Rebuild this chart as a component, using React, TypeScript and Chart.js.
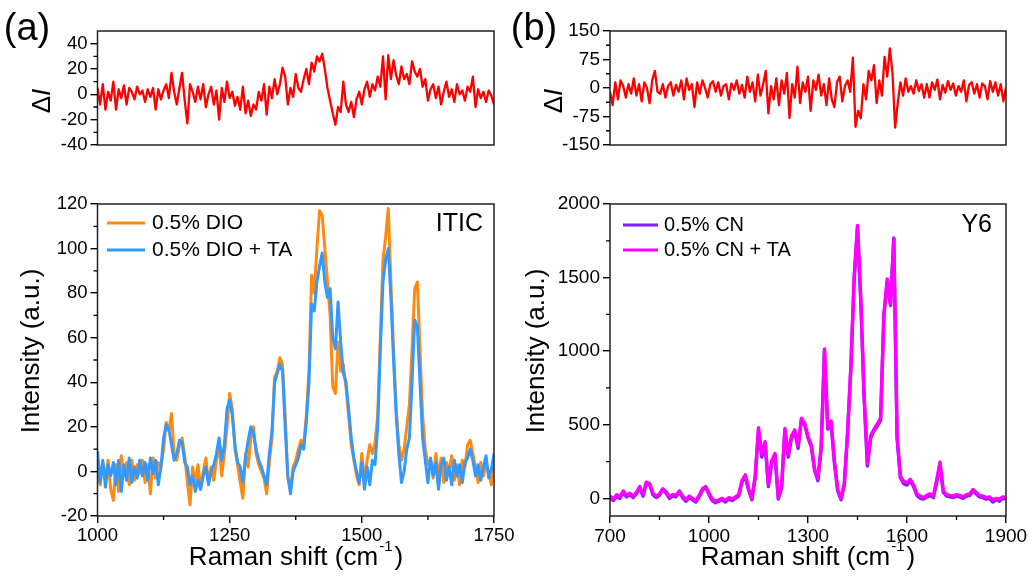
import React, { useEffect, useRef } from 'react';
import { Chart, registerables } from 'chart.js';
Chart.register(...registerables);

const FONT = "'Liberation Sans', Arial, Helvetica, sans-serif";
const W = 1034;
const H = 581;

// ---------- x grids (Raman shift, cm^-1) ----------
const ITIC_SHIFT = Array.from({ length: 151 }, (_, i) => 1000 + 5 * i);
const Y6_SHIFT = Array.from({ length: 121 }, (_, i) => 700 + 10 * i);
const Y6_DIFF_SHIFT = Array.from({ length: 151 }, (_, i) => 700 + 8 * i);

// ---------- tick labels ----------
const ITIC_X_TICKS = [1000, 1250, 1500, 1750];
const ITIC_X_MINOR = [1125, 1375, 1625];
const ITIC_DELTA_Y_TICKS = [-40, -20, 0, 20, 40];
const ITIC_DELTA_Y_MINOR = [-30, -10, 10, 30];
const ITIC_Y_TICKS = [-20, 0, 20, 40, 60, 80, 100, 120];
const ITIC_Y_MINOR = [-10, 10, 30, 50, 70, 90, 110];
const Y6_X_TICKS = [700, 1000, 1300, 1600, 1900];
const Y6_X_MINOR = [850, 1150, 1450, 1750];
const Y6_DELTA_Y_TICKS = [-150, -75, 0, 75, 150];
const Y6_DELTA_Y_MINOR = [-112.5, -37.5, 37.5, 112.5];
const Y6_Y_TICKS = [0, 500, 1000, 1500, 2000];
const Y6_Y_MINOR = [250, 750, 1250, 1750];

// ---------- (a) ITIC ----------
const ITIC_DIO = [
  2, -6, 4, -3, 5, -8, -13, 3, -9, 7,
  -2, 4, -6, 5, -4, 3, -1, 5, -5, 3,
  -10, 6, -3, 4, 2, 10, 22, 18, 26, 8,
  5, 12, 15, 7, -5, -15, 2, -6, 3, -8,
  0, 6, -5, 2, -4, 5, 12, -2, 8, 20,
  35, 28, 10, 3, -5, -12, 8, 2, 15, 20,
  8, 3, 0, -3, -10, 4, 15, 42, 45, 51,
  48, 25, -3, -8, 2, 5, 10, 14, 12, 25,
  45, 88, 80, 100, 117, 115, 100, 85, 70, 38,
  35, 58, 45, 48, 38, 25, 12, 5, -2, -6,
  8, -4, 5, 12, 8, 13, 25, 60, 95, 105,
  118, 85, 55, 28, 12, 5, 10, 20, 30, 55,
  82, 85, 55, 25, 10, 3, 5, -3, 8, -2,
  6, -5, 4, 0, 7, -4, 3, -6, 5, 2,
  12, 14, 8, 2, -5, 4, -2, 3, 0, -6,
  2,
];
const ITIC_DIO_TA = [
  9, -5, 5, -7, 3, -2, 4, -6, 5, -9,
  3, -4, 6, -5, 2, -3, 5, -2, 4, -4,
  6, -1, 5, -6, 2, 15, 21, 19, 12, 5,
  8, 14, 13, 4, 2, -6, -2, -9, -4, -8,
  -2, 2, -6, 0, 3, 8, 15, 5, 12, 28,
  32, 25, 12, 4, 2, -5, 6, 14, 20, 17,
  10, 5, 2, -2, -6, 8, 18, 40, 44, 48,
  45, 20, -2, -10, 0, 3, 6, 12, 10, 22,
  40, 75, 72, 85, 92, 98, 85, 78, 82, 60,
  55, 76, 58, 44, 40, 28, 15, 6, 0, -5,
  4, -8, 2, -6, 5, 3, 20, 55, 85, 95,
  100, 78, 50, 25, 8, -5, 0, 10, 15, 40,
  68, 65, 40, 15, 5, -5, 6, -2, 4, -8,
  3, 6, -4, 2, -6, 5, -2, 3, -5, 4,
  6, 10, 5, -2, 3, -4, 2, 7, -3, 1,
  8,
];
const ITIC_DELTA = [
  5, -8, 8, -12, 2, -5, 10, -12, 4, -3,
  7, -8, 5, 2, -4, 6, 0, 3, -6, 4,
  -2, 5, -12, 4, -4, 3, 8, -3, 17, 2,
  -8, 5, 17, -5, -23, 8, 2, -6, 6, -4,
  8, -10, 0, 6, -8, 3, -20, 5, -6, 10,
  -3, 2, -9, -2, -12, 6, -15, -5, -17, -8,
  -12, 2, -5, 8, -16, 6, -3, 12, 0, 8,
  21, 14, -8, 5, -2, 16, 5, 2, 12, 20,
  8, 25, 18, 30, 26, 32, 20, 5, -5, -15,
  -24, -10, -14, 10, -8, -14, -6, -18, -4, 2,
  -8, 4, 10, -2, 8, 3, 14, 6, 30, -4,
  31, 12, 27, 15, 8, 22, 12, 16, 8, 26,
  18, 14, 20, 6, 12, -5, 4, 8, -3, 6,
  -8, 2, 10, -2, 4, -6, 8, 0, 3, -5,
  6, 2, 14, -10, 4, -3, 2, -6, 3, -1,
  -8,
];

// ---------- (b) Y6 ----------
const Y6_CN = [
  5, -15, 10, 0, 40, 10, 25, 5, 30, 70,
  15, 100, 95, 25, 5, 20, 60, 35, 0, 15,
  10, 45, 5, -20, 5, -10, -25, 10, 55, 75,
  25, -15, -30, -20, -10, -25, -5, -15, 0, 15,
  110, 150, 55, -10, 140, 460, 280, 370, 80, 240,
  290, -5, 70, 460, 280, 410, 450, 340, 530, 500,
  410, 350, 190, 120, 340, 1000, 470, 510, 240, 50,
  -10, 90, 440, 890, 1490, 1840, 1340, 690, 220, 410,
  460, 490, 530, 1240, 1470, 1310, 1770, 410, 140, 100,
  90, 120, 80, 20, 0, -5, 10, 20, 5, 110,
  230, 40, 15, 10, 5, 15, 10, 0, 15, 20,
  50, 30, 10, 5, -5, 0, -25, -10, -20, 0,
  -5,
];
const Y6_CN_TA = [
  15, -5, 25, 10, 50, 20, 35, 15, 40, 80,
  25, 110, 100, 35, 15, 30, 65, 45, 10, 25,
  20, 50, 15, -10, 15, 0, -15, 20, 65, 80,
  35, -5, -20, -10, 0, -15, 5, -5, 10, 25,
  120, 160, 65, 0, 150, 480, 300, 385, 95, 255,
  305, 5, 85, 475, 300, 425, 465, 355, 545, 510,
  420, 360, 200, 135, 355, 1015, 480, 525, 255, 60,
  0, 100, 455, 900, 1505, 1855, 1350, 700, 235, 425,
  470, 505, 545, 1250, 1490, 1320, 1760, 420, 150, 115,
  105, 130, 90, 30, 15, 5, 20, 30, 15, 125,
  245, 50, 25, 20, 15, 25, 20, 10, 25, 30,
  60, 40, 20, 15, 5, 10, -10, 0, -5, 10,
  5,
];
const Y6_DELTA = [
  -10, -45, 15, -30, 20, 5, -25, 10, -15, 25,
  -20, 10, -35, 15, 0, -40, 20, 45, -10, -15,
  10, -25, 5, 15, -20, 8, -10, 20, -30, 25,
  -5, 10, -50, 15, -15, 20, 0, -25, 10, 18,
  -10, 15, -20, 5, 10, -30, 12, -5, 20, -15,
  8, -25, 30, -10, 15, -35, 35, -20, 10, 45,
  -67, 5, -30, 25, -45, 20, -15, 40, -79, 10,
  -25, 56, -40, 15, -10, 30, -60, 20, -5, 35,
  -20, 10, -45, 25, -30, -50, 15, 30, -35, 5,
  20, -10, 80, -102, -60, -80, 10, -30, 45, 20,
  60, -40, 20, -20, 82, 30, 104, 40, -104, -40,
  15, -20, 25, -10, 5, -15, 20, -8, 10, -25,
  10, -25, 15, -5, 22, -30, 8, -12, 18, -5,
  12, -20, 5, -10, 20, -35, 8, 15, -15, 10,
  -25, 12, 5, -30, 18, -10, 15, -20, 10, -35,
  0,
];

// ---------- labels ----------
const ITIC_LABELS = ['0.5% DIO', '0.5% DIO + TA'];
const Y6_LABELS = ['0.5% CN', '0.5% CN + TA'];
const COLORS = { dio: '#FF8A12', dioTa: '#3399FF', cn: '#7F1FFF', cnTa: '#FF00FF', delta: '#FF0000' };

type Series = { label: string; x: number[]; y: number[]; color: string; width: number; order: number };
type Panel = {
  padLeft: number; left: number; right: number; top: number; bottom: number;
  showX: boolean; xMin: number; xMax: number; xTicks: number[]; xMinor: number[];
  yMin: number; yMax: number; yTicks: number[]; yMinor: number[];
  tickSize: number;
  series: Series[];
  draw: (ctx: CanvasRenderingContext2D) => void;
};

function txt(ctx: CanvasRenderingContext2D, s: string, x: number, y: number, size: number, align: CanvasTextAlign = 'left') {
  ctx.font = `${size}px ${FONT}`;
  ctx.textAlign = align;
  ctx.textBaseline = 'middle';
  ctx.fillStyle = '#000';
  ctx.fillText(s, x, y);
}

function rotatedParts(ctx: CanvasRenderingContext2D, parts: [string, string][], cx: number, cy: number, size: number) {
  ctx.save();
  ctx.translate(cx, cy);
  ctx.rotate(-Math.PI / 2);
  const widths = parts.map(([s, st]) => {
    ctx.font = `${st} ${size}px ${FONT}`.trim();
    return ctx.measureText(s).width;
  });
  let x = -widths.reduce((a, b) => a + b, 0) / 2;
  ctx.textBaseline = 'middle';
  ctx.textAlign = 'left';
  ctx.fillStyle = '#000';
  parts.forEach(([s, st], i) => {
    ctx.font = `${st} ${size}px ${FONT}`.trim();
    ctx.fillText(s, x, 0);
    x += widths[i];
  });
  ctx.restore();
}

function xTitle(ctx: CanvasRenderingContext2D, cx: number, cy: number) {
  const a = 'Raman shift (cm';
  const b = '-1';
  const c = ')';
  ctx.font = `26px ${FONT}`;
  const wa = ctx.measureText(a).width;
  const wc = ctx.measureText(c).width;
  ctx.font = `15px ${FONT}`;
  const wb = ctx.measureText(b).width + 3;
  const x0 = cx - (wa + wb + wc) / 2;
  txt(ctx, a, x0, cy, 26);
  txt(ctx, b, x0 + wa + 1, cy - 11, 15);
  txt(ctx, c, x0 + wa + wb, cy, 26);
}

function legend(ctx: CanvasRenderingContext2D, labels: string[], colors: string[], x0: number, x1: number, tx: number, ys: number[], size: number) {
  labels.forEach((l, i) => {
    ctx.strokeStyle = colors[i];
    ctx.lineWidth = 3;
    ctx.beginPath();
    ctx.moveTo(x0, ys[i]);
    ctx.lineTo(x1, ys[i]);
    ctx.stroke();
    txt(ctx, l, tx, ys[i], size);
  });
}

function decor(p: Panel) {
  return {
    id: 'decor',
    afterDraw(chart: any) {
      const { ctx, chartArea: a, scales } = chart;
      ctx.save();
      ctx.strokeStyle = '#222';
      ctx.lineWidth = 1.5;
      ctx.strokeRect(a.left, a.top, a.right - a.left, a.bottom - a.top);
      ctx.strokeStyle = '#000';
      ctx.lineWidth = 1.3;
      ctx.beginPath();
      p.yMinor.forEach((v) => {
        const y = scales.y.getPixelForValue(v);
        ctx.moveTo(a.left, y);
        ctx.lineTo(a.left - 4, y);
      });
      if (p.showX) {
        p.xMinor.forEach((v) => {
          const x = scales.x.getPixelForValue(v);
          ctx.moveTo(x, a.bottom);
          ctx.lineTo(x, a.bottom + 4);
        });
      }
      ctx.stroke();
      p.draw(ctx);
      ctx.restore();
    },
  };
}

function buildConfig(p: Panel): any {
  const tickFont = { family: FONT, size: p.tickSize };
  const gridOpts = { display: true, drawOnChartArea: false, drawTicks: true, tickLength: 7, color: '#000', lineWidth: 1.4 };
  const fmt = (v: any) => String(v);
  return {
    type: 'line',
    data: {
      datasets: p.series.map((s) => ({
        label: s.label,
        data: s.x.map((x, i) => ({ x, y: s.y[i] })),
        borderColor: s.color,
        backgroundColor: s.color,
        borderWidth: s.width,
        pointRadius: 0,
        tension: 0,
        fill: false,
        order: s.order,
        borderJoinStyle: 'round',
      })),
    },
    options: {
      responsive: false,
      animation: false,
      devicePixelRatio: 1,
      events: [],
      layout: {
        padding: {
          left: p.padLeft,
          right: W - p.right,
          top: p.top,
          bottom: p.showX ? H - p.bottom - 35 : H - p.bottom,
        },
      },
      plugins: { legend: { display: false }, tooltip: { enabled: false } },
      scales: {
        x: {
          type: 'linear',
          display: p.showX,
          min: p.xMin,
          max: p.xMax,
          afterFit: (s: any) => { s.height = 35; },
          afterBuildTicks: (s: any) => { s.ticks = p.xTicks.map((v) => ({ value: v })); },
          ticks: { autoSkip: false, maxRotation: 0, minRotation: 0, color: '#000', font: tickFont, padding: 2, callback: fmt },
          grid: gridOpts,
          border: { display: false },
        },
        y: {
          type: 'linear',
          min: p.yMin,
          max: p.yMax,
          afterFit: (s: any) => { s.width = p.left - p.padLeft; },
          afterBuildTicks: (s: any) => { s.ticks = p.yTicks.map((v) => ({ value: v })); },
          ticks: { autoSkip: false, color: '#000', font: tickFont, padding: 3, callback: fmt },
          grid: gridOpts,
          border: { display: false },
        },
      },
    },
    plugins: [decor(p)],
  };
}

const PANELS: Panel[] = [
  {
    padLeft: 0, left: 97.5, right: 494, top: 31, bottom: 180,
    showX: false, xMin: 1000, xMax: 1750, xTicks: ITIC_X_TICKS, xMinor: [],
    yMin: -40, yMax: 50, yTicks: ITIC_DELTA_Y_TICKS, yMinor: ITIC_DELTA_Y_MINOR,
    tickSize: 18.5,
    series: [{ label: 'ΔI', x: ITIC_SHIFT, y: ITIC_DELTA, color: COLORS.delta, width: 2.3, order: 0 }],
    draw: (ctx) => {
      txt(ctx, '(a)', 27, 30, 38, 'center');
      rotatedParts(ctx, [['Δ', ''], ['I', 'italic']], 43, 101, 26);
    },
  },
  {
    padLeft: 0, left: 97.5, right: 494, top: 204, bottom: 516,
    showX: true, xMin: 1000, xMax: 1750, xTicks: ITIC_X_TICKS, xMinor: ITIC_X_MINOR,
    yMin: -20, yMax: 120, yTicks: ITIC_Y_TICKS, yMinor: ITIC_Y_MINOR,
    tickSize: 18.5,
    series: [
      { label: ITIC_LABELS[0], x: ITIC_SHIFT, y: ITIC_DIO, color: COLORS.dio, width: 3, order: 1 },
      { label: ITIC_LABELS[1], x: ITIC_SHIFT, y: ITIC_DIO_TA, color: COLORS.dioTa, width: 3, order: 0 },
    ],
    draw: (ctx) => {
      legend(ctx, ITIC_LABELS, [COLORS.dio, COLORS.dioTa], 107, 145, 152, [223, 250], 21);
      txt(ctx, 'ITIC', 483, 224, 25, 'right');
      rotatedParts(ctx, [['Intensity (a.u.)', '']], 32, 351, 26);
      xTitle(ctx, 296, 558);
    },
  },
  {
    padLeft: 510, left: 610, right: 1006, top: 31, bottom: 180,
    showX: false, xMin: 700, xMax: 1900, xTicks: Y6_X_TICKS, xMinor: [],
    yMin: -150, yMax: 150, yTicks: Y6_DELTA_Y_TICKS, yMinor: Y6_DELTA_Y_MINOR,
    tickSize: 19,
    series: [{ label: 'ΔI', x: Y6_DIFF_SHIFT, y: Y6_DELTA, color: COLORS.delta, width: 2.3, order: 0 }],
    draw: (ctx) => {
      txt(ctx, '(b)', 534, 30, 38, 'center');
      rotatedParts(ctx, [['Δ', ''], ['I', 'italic']], 555, 101, 26);
    },
  },
  {
    padLeft: 510, left: 610, right: 1006, top: 204, bottom: 516,
    showX: true, xMin: 700, xMax: 1900, xTicks: Y6_X_TICKS, xMinor: Y6_X_MINOR,
    yMin: -120, yMax: 2000, yTicks: Y6_Y_TICKS, yMinor: Y6_Y_MINOR,
    tickSize: 19,
    series: [
      { label: Y6_LABELS[0], x: Y6_SHIFT, y: Y6_CN, color: COLORS.cn, width: 3.4, order: 1 },
      { label: Y6_LABELS[1], x: Y6_SHIFT, y: Y6_CN_TA, color: COLORS.cnTa, width: 3.4, order: 0 },
    ],
    draw: (ctx) => {
      legend(ctx, Y6_LABELS, [COLORS.cn, COLORS.cnTa], 623, 658, 664, [225, 250], 20);
      txt(ctx, 'Y6', 992, 225, 25, 'right');
      rotatedParts(ctx, [['Intensity (a.u.)', '']], 537, 351, 26);
      xTitle(ctx, 808, 558);
    },
  },
];

function PanelChart({ panel }: { panel: Panel }) {
  const ref = useRef<HTMLCanvasElement>(null);
  useEffect(() => {
    const chart = new Chart(ref.current as HTMLCanvasElement, buildConfig(panel));
    return () => chart.destroy();
  }, [panel]);
  return (
    <canvas
      ref={ref}
      width={W}
      height={H}
      style={{ position: 'absolute', left: 0, top: 0, width: W, height: H }}
    />
  );
}

export default function App() {
  return (
    <div style={{ position: 'fixed', left: 0, top: 0, width: W, height: H, background: '#fff', overflow: 'hidden' }}>
      {PANELS.map((p, i) => (
        <PanelChart key={i} panel={p} />
      ))}
    </div>
  );
}
